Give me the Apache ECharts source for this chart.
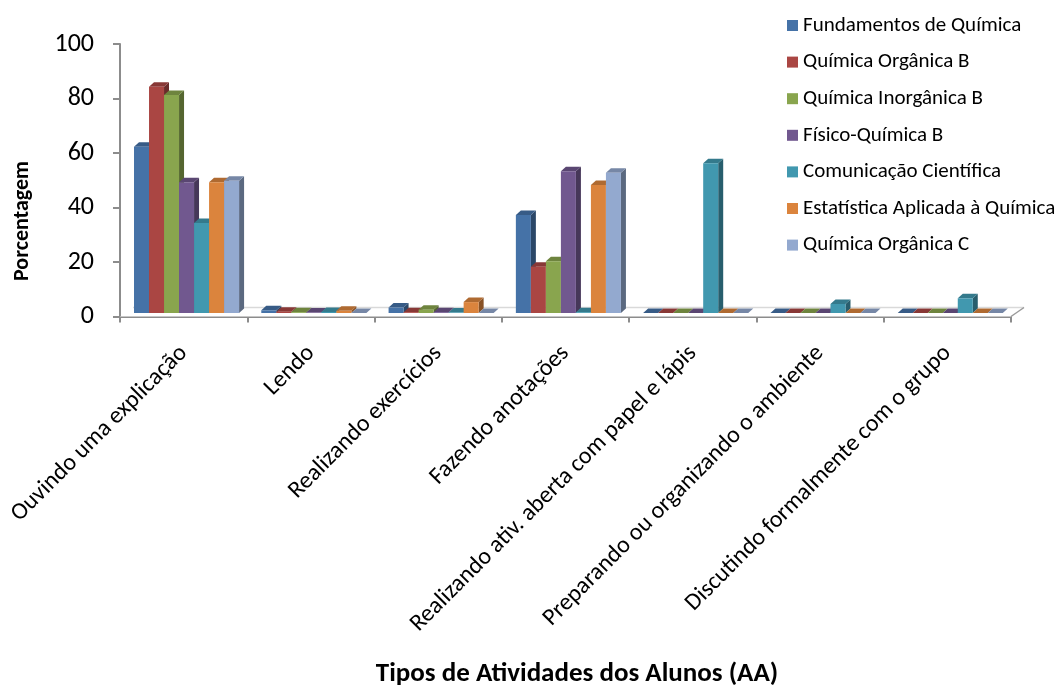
<!DOCTYPE html>
<html>
<head>
<meta charset="utf-8">
<script src="https://cdn.jsdelivr.net/npm/echarts@6/dist/echarts.min.js"></script>
<style>
  html, body { margin: 0; padding: 0; background: #ffffff; }
  #chart { width: 1059px; height: 691px; }
</style>
</head>
<body>
<div id="chart"></div>
<script>
// Activity categories (x axis)
const categories = [
  'Ouvindo uma explicação',
  'Lendo',
  'Realizando exercícios',
  'Fazendo anotações',
  'Realizando ativ. aberta com papel e lápis',
  'Preparando ou organizando o ambiente',
  'Discutindo formalmente com o grupo'
];

// Course names (one series each)
const courseNames = [
  'Fundamentos de Química',
  'Química Orgânica B',
  'Química Inorgânica B',
  'Físico-Química B',
  'Comunicação Científica',
  'Estatística Aplicada à Química',
  'Química Orgânica C'
];

// Percentages per activity, one array per course
const fundamentosQuimica   = [61, 1.0, 2.0, 36, 0, 0, 0];
const quimicaOrganicaB     = [83, 0.5, 0.3, 17, 0, 0, 0];
const quimicaInorganicaB   = [80, 0.3, 1.2, 19, 0, 0, 0];
const fisicoQuimicaB       = [48, 0.2, 0.3, 52, 0, 0, 0];
const comunicacaoCientif   = [33, 0.4, 0.2, 0.3, 55, 3.3, 5.4];
const estatisticaAplicada  = [48, 0.8, 4.0, 47, 0, 0, 0];
const quimicaOrganicaC     = [48.5, 0, 0, 51.5, 0, 0, 0];

const courseValues = [
  fundamentosQuimica, quimicaOrganicaB, quimicaInorganicaB, fisicoQuimicaB,
  comunicacaoCientif, estatisticaAplicada, quimicaOrganicaC
];

// Y axis tick settings
const yMin = 0, yMax = 100, yStep = 20;

const palette = ['#4572A7', '#AA4643', '#89A54E', '#71588F', '#4198AF', '#DB843D', '#93A9CF'];

const FONT = "Carlito, Lato, 'Open Sans', sans-serif";

function shade(hex, f) {
  const n = parseInt(hex.slice(1), 16);
  const r = Math.round(((n >> 16) & 255) * f);
  const g = Math.round(((n >> 8) & 255) * f);
  const b = Math.round((n & 255) * f);
  return 'rgb(' + r + ',' + g + ',' + b + ')';
}

// pseudo-3D geometry
const DEPTH_X = 5, DEPTH_Y = 4.5;     // column depth
const FLOOR_DX = 13, FLOOR_DY = 9;    // floor depth
const LIFT = 3.5;                      // columns stand mid-way on the floor
const BAR_FRAC = 15 / 127.2;           // column width as share of a category band
const START_FRAC = 14 / 127.2;         // offset of first column inside a band

function columnRenderer(idx) {
  return function (params, api) {
    const cat = api.value(0);
    const val = api.value(1);
    const base = api.coord([cat, 0]);
    const top = api.coord([cat, val]);
    const band = api.size([1, 0])[0];
    const w = band * BAR_FRAC;
    const x0 = base[0] - band / 2 + band * START_FRAC + idx * w;
    const yb = base[1] - LIFT;
    const yt = top[1] - LIFT;
    const c = palette[idx];
    return {
      type: 'group',
      children: [
        { type: 'polygon',
          shape: { points: [[x0 + w, yb], [x0 + w + DEPTH_X, yb - DEPTH_Y], [x0 + w + DEPTH_X, yt - DEPTH_Y], [x0 + w, yt]] },
          style: { fill: shade(c, 0.62) } },
        { type: 'polygon',
          shape: { points: [[x0, yt], [x0 + w, yt], [x0 + w + DEPTH_X, yt - DEPTH_Y], [x0 + DEPTH_X, yt - DEPTH_Y]] },
          style: { fill: shade(c, 0.8) } },
        { type: 'rect',
          shape: { x: x0, y: yt, width: w, height: Math.max(yb - yt, 0) },
          style: { fill: c } }
      ]
    };
  };
}

function floorRenderer(params, api) {
  const band = api.size([1, 0])[0];
  const first = api.coord([0, 0]);
  const last = api.coord([categories.length - 1, 0]);
  const l = first[0] - band / 2, r = last[0] + band / 2, y = first[1];
  return {
    type: 'group',
    children: [
      { type: 'polygon',
        shape: { points: [[l, y], [r, y], [r + FLOOR_DX, y - FLOOR_DY], [l + FLOOR_DX, y - FLOOR_DY]] },
        style: { fill: '#ffffff' } },
      { type: 'polyline',
        shape: { points: [[l + FLOOR_DX, y - FLOOR_DY], [r + FLOOR_DX, y - FLOOR_DY]] },
        style: { stroke: '#d9d9d9', lineWidth: 1.5, fill: null } },
      { type: 'polyline',
        shape: { points: [[r, y], [r + FLOOR_DX, y - FLOOR_DY]] },
        style: { stroke: '#9a9a9a', lineWidth: 1.5, fill: null } }
    ]
  };
}

const series = [{
  type: 'custom',
  name: 'floor',
  renderItem: floorRenderer,
  data: [[0, 0]],
  encode: { x: 0, y: 1 },
  silent: true,
  z: 1
}];

courseNames.forEach(function (name, i) {
  series.push({
    type: 'custom',
    name: name,
    renderItem: columnRenderer(i),
    itemStyle: { color: palette[i] },
    data: courseValues[i].map(function (v, k) { return [k, v]; }),
    encode: { x: 0, y: 1 },
    z: 2 + i
  });
});

const chart = echarts.init(document.getElementById('chart'), null, { renderer: 'canvas' });

chart.setOption({
  animation: false,
  backgroundColor: '#ffffff',
  grid: { left: 120, right: 48, top: 44, bottom: 374.5, containLabel: false },
  legend: {
    data: courseNames,
    orient: 'vertical',
    left: 782,
    top: 10,
    itemWidth: 11,
    itemHeight: 11,
    itemGap: 15.6,
    icon: 'rect',
    textStyle: { fontFamily: FONT, fontSize: 21, color: '#000', lineHeight: 21 }
  },
  xAxis: {
    type: 'category',
    data: categories,
    boundaryGap: true,
    axisLine: { show: true, lineStyle: { color: '#8c8c8c', width: 2 } },
    axisTick: { show: true, length: 6, lineStyle: { color: '#8c8c8c', width: 2 } },
    axisLabel: {
      interval: 0,
      rotate: 45,
      margin: 33,
      fontFamily: FONT,
      fontSize: 24,
      color: '#000'
    },
    splitLine: { show: false }
  },
  yAxis: {
    type: 'value',
    min: yMin,
    max: yMax,
    interval: yStep,
    axisLine: { show: true, lineStyle: { color: '#8c8c8c', width: 2 } },
    axisTick: { show: true, length: 7, lineStyle: { color: '#8c8c8c', width: 2 } },
    axisLabel: { fontFamily: FONT, fontSize: 26, color: '#000', margin: 26 },
    splitLine: { show: false }
  },
  graphic: [
    {
      type: 'text',
      x: 22, y: 221,
      rotation: Math.PI / 2,
      style: {
        text: 'Porcentagem',
        x: 0, y: 0,
        align: 'center', verticalAlign: 'middle',
        font: 'bold 22px ' + FONT,
        fill: '#000'
      }
    },
    {
      type: 'text',
      x: 577, y: 674,
      style: {
        text: 'Tipos de Atividades dos Alunos (AA)',
        x: 0, y: 0,
        align: 'center', verticalAlign: 'middle',
        font: 'bold 27px ' + FONT,
        fill: '#000'
      }
    }
  ],
  series: series
});
</script>
</body>
</html>
